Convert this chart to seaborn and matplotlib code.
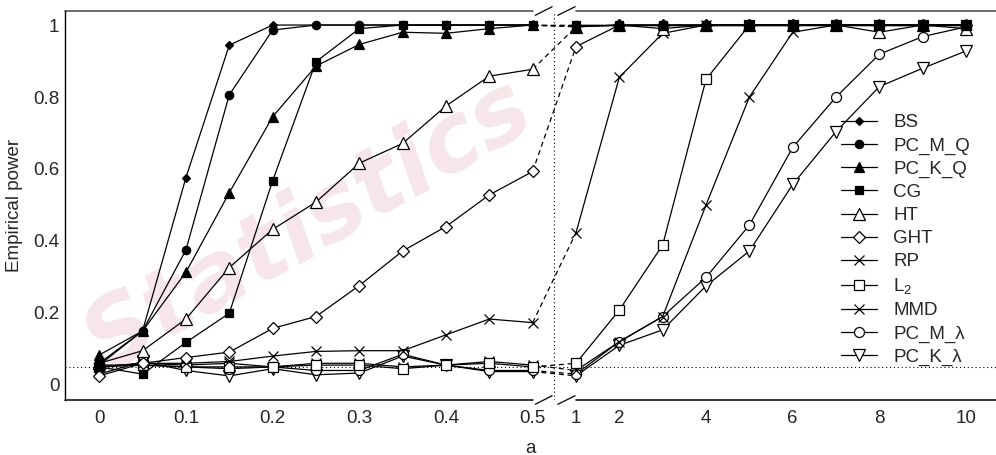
import numpy as np
import pandas as pd
import matplotlib
matplotlib.use("Agg")
import matplotlib.pyplot as plt
import seaborn as sns
from matplotlib.lines import Line2D
from matplotlib.ticker import FixedLocator, FixedFormatter

# ---------------- data ----------------
a_left = [0, 0.05, 0.1, 0.15, 0.2, 0.25, 0.3, 0.35, 0.4, 0.45, 0.5]
a_right = [1, 2, 3, 4, 5, 6, 7, 8, 9, 10]

labels = ["BS", "PC_M_Q", "PC_K_Q", "CG", "HT", "GHT", "RP", "L$_2$", "MMD",
          "PC_M_\u03bb", "PC_K_\u03bb"]

bs = [0.055, 0.15, 0.576, 0.944, 1.0, 1.0, 1.0, 1.0, 1.0, 1.0, 1.0,
      1.0, 1.0, 1.0, 1.0, 1.0, 1.0, 1.0, 1.0, 1.0, 1.0]
pc_m_q = [0.06, 0.15, 0.375, 0.806, 0.986, 1.0, 1.0, 1.0, 1.0, 1.0, 1.0,
          1.0, 1.0, 1.0, 1.0, 1.0, 1.0, 1.0, 1.0, 1.0, 1.0]
pc_k_q = [0.083, 0.15, 0.313, 0.534, 0.745, 0.886, 0.946, 0.98, 0.977, 0.99, 1.0,
          0.995, 1.0, 1.0, 1.0, 1.0, 1.0, 1.0, 1.0, 1.0, 1.0]
cg = [0.05, 0.03, 0.118, 0.199, 0.567, 0.898, 0.99, 1.0, 1.0, 1.0, 1.0,
      1.0, 1.0, 1.0, 1.0, 1.0, 1.0, 1.0, 1.0, 1.0, 1.0]
ht = [0.06, 0.095, 0.183, 0.326, 0.432, 0.508, 0.616, 0.671, 0.775, 0.858, 0.877,
      0.995, 1.0, 0.99, 1.0, 1.0, 1.0, 1.0, 0.98, 1.0, 0.99]
ght = [0.025, 0.06, 0.076, 0.091, 0.157, 0.19, 0.276, 0.372, 0.44, 0.528, 0.593,
       0.94, 1.0, 1.0, 1.0, 1.0, 1.0, 1.0, 1.0, 1.0, 1.0]
rp = [0.05, 0.06, 0.06, 0.065, 0.08, 0.093, 0.095, 0.095, 0.139, 0.183, 0.173,
      0.423, 0.855, 0.977, 1.0, 1.0, 1.0, 1.0, 1.0, 1.0, 1.0]
l2 = [0.05, 0.055, 0.05, 0.05, 0.05, 0.055, 0.055, 0.045, 0.055, 0.06, 0.05,
      0.06, 0.208, 0.389, 0.849, 1.0, 1.0, 1.0, 1.0, 1.0, 1.0]
mmd = [0.05, 0.06, 0.055, 0.06, 0.05, 0.06, 0.06, 0.05, 0.055, 0.065, 0.055,
       0.04, 0.12, 0.19, 0.5, 0.8, 0.98, 1.0, 1.0, 1.0, 1.0]
pc_m_l = [0.055, 0.055, 0.05, 0.045, 0.05, 0.04, 0.04, 0.085, 0.055, 0.04, 0.04,
          0.03, 0.12, 0.19, 0.299, 0.444, 0.66, 0.8, 0.919, 0.968, 0.995]
pc_k_l = [0.03, 0.065, 0.04, 0.025, 0.045, 0.028, 0.033, 0.08, 0.055, 0.037, 0.037,
          0.025, 0.11, 0.153, 0.275, 0.372, 0.557, 0.704, 0.829, 0.88, 0.928]

series = [bs, pc_m_q, pc_k_q, cg, ht, ght, rp, l2, mmd, pc_m_l, pc_k_l]

x_ticks = a_left + a_right
x_ticklabels = ["0", "", "0.1", "", "0.2", "", "0.3", "", "0.4", "", "0.5",
                "1", "2", "", "4", "", "6", "", "8", "", "10"]
y_ticks = [0, 0.2, 0.4, 0.6, 0.8, 1.0]
y_ticklabels = ["0", "0.2", "0.4", "0.6", "0.8", "1"]
ref_level = 0.05

# ---------------- styles ----------------
styles = [
    dict(marker="D", ms=3.6, mfc="black"),
    dict(marker="o", ms=6.0, mfc="black"),
    dict(marker="^", ms=7.0, mfc="black"),
    dict(marker="s", ms=6.2, mfc="black"),
    dict(marker="^", ms=9.0, mfc="white"),
    dict(marker="D", ms=6.0, mfc="white"),
    dict(marker="x", ms=7.2, mfc="black"),
    dict(marker="s", ms=6.6, mfc="white"),
    dict(marker="x", ms=7.2, mfc="black"),
    dict(marker="o", ms=7.2, mfc="white"),
    dict(marker="v", ms=8.6, mfc="white"),
]

sns.set_style("white")
plt.rcParams["font.family"] = ["Liberation Sans", "DejaVu Sans"]
plt.rcParams["mathtext.fontset"] = "custom"
plt.rcParams["mathtext.rm"] = "Liberation Sans"
plt.rcParams["mathtext.it"] = "Liberation Sans:italic"
FS = 13.5

fig = plt.figure(figsize=(9.96, 4.55), dpi=100)
fig.patch.set_facecolor("white")

# faint background watermark
fig.text(0.31, 0.5, "Statistics", rotation=30, fontsize=68, fontweight="heavy",
         style="italic", color="#f6e6ea", ha="center", va="center",
         family="DejaVu Sans", zorder=-5)

ax = fig.add_axes([65 / 996, 1 - 400 / 455, 1 - 65 / 996, 389 / 455])
ax.set_facecolor("none")


# broken x-axis as a piecewise-linear scale
def fwd(x):
    return np.interp(x, [-10, 0.5, 1, 100], [-200, 10, 11, 110])


def inv(u):
    return np.interp(u, [-200, 10, 11, 110], [-10, 0.5, 1, 100])


ax.set_xscale("function", functions=(fwd, inv))
xmin, xmax = inv(-0.79), inv(20.69)
ax.set_xlim(xmin, xmax)
ax.set_ylim(-0.042, 1.039)

LW = 0.9
for vals, st in reversed(list(zip(series, styles))):
    common = dict(color="black", linewidth=LW, marker=st["marker"], markersize=st["ms"],
                  markerfacecolor=st["mfc"], markeredgecolor="black",
                  markeredgewidth=0.9, estimator=None, sort=False, legend=False)
    sns.lineplot(x=a_left, y=vals[:11], ax=ax, **common)
    sns.lineplot(x=a_right, y=vals[11:], ax=ax, **common)
    sns.lineplot(x=[a_left[-1], a_right[0]], y=[vals[10], vals[11]], ax=ax,
                 color="black", linewidth=LW, linestyle=(0, (4, 3)),
                 estimator=None, sort=False, legend=False, zorder=1.5)

# reference lines
ax.axhline(ref_level, color="black", linestyle=(0, (1, 2.5)), linewidth=0.8, zorder=1)
ax.axvline(inv(10.5), color="black", linestyle=(0, (1, 2.5)), linewidth=0.8, zorder=1)

# axes and ticks
ax.xaxis.set_major_locator(FixedLocator(x_ticks))
ax.xaxis.set_major_formatter(FixedFormatter(x_ticklabels))
ax.xaxis.set_minor_locator(FixedLocator([]))
ax.set_yticks(y_ticks)
ax.set_yticklabels(y_ticklabels)
ax.tick_params(axis="both", direction="in", length=4, width=0.8, labelsize=FS,
               top=False, right=False, color="black")
ax.tick_params(axis="x", pad=7)
ax.tick_params(axis="y", pad=4)

for s in ["top", "bottom", "right"]:
    ax.spines[s].set_visible(False)
ax.spines["left"].set_linewidth(1.0)
ax.spines["left"].set_color("black")

trans = ax.get_xaxis_transform()
for yy, col in [(0, "black"), (1, "#444444")]:
    ax.plot([xmin, 0.5], [yy, yy], transform=trans, color=col, lw=1.1, clip_on=False)
    ax.plot([1, xmax], [yy, yy], transform=trans, color=col, lw=1.1, clip_on=False)
    for i0, i1 in [(10.06, 10.45), (10.58, 10.98)]:
        ax.plot([inv(i0), inv(i1)], [yy - 0.011, yy + 0.011], transform=trans,
                color="black", lw=0.9, clip_on=False)

ax.set_xlabel("a", fontsize=FS)
ax.xaxis.set_label_coords(0.5, -0.102)
ax.set_ylabel("Empirical power", fontsize=FS)
ax.yaxis.set_label_coords(-0.045, 0.5)

handles = [Line2D([], [], color="black", lw=LW, marker=st["marker"],
                  markersize=st["ms"], markerfacecolor=st["mfc"],
                  markeredgecolor="black", markeredgewidth=0.9)
           for st in styles]
ax.legend(handles, labels, loc="upper left", bbox_to_anchor=(0.8335, 0.735),
          frameon=False, fontsize=FS, borderpad=0, borderaxespad=0,
          handlelength=1.9, handletextpad=0.9, labelspacing=0.32)

fig.savefig("out.png", dpi=100, facecolor="white")
